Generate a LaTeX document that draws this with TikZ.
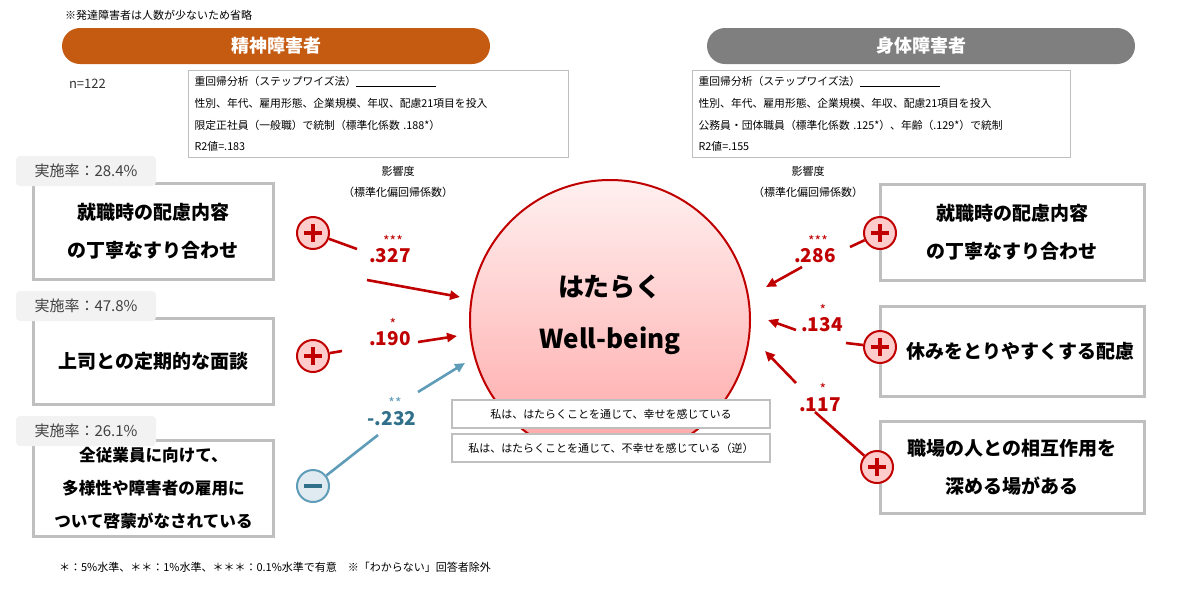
\documentclass[tikz,border=0pt]{standalone}
\usepackage{fontspec}
\setmainfont{Noto Sans CJK JP}
\usetikzlibrary{arrows.meta}
\definecolor{ored}{HTML}{C55A11}
\definecolor{hgray}{HTML}{7F7F7F}
\definecolor{dred}{HTML}{C00000}
\definecolor{bl}{HTML}{5E9CB8}
\definecolor{bltx}{HTML}{31708A}
\definecolor{bgray}{HTML}{BFBFBF}
\tikzset{
 hdr/.style={rounded corners=9pt,text=white,font=\bfseries\fontsize{9}{10}\selectfont},
 info/.style={draw=bgray,line width=0.6pt,anchor=north west,align=left,inner sep=3pt,font=\fontsize{5.4}{10.8}\selectfont},
 sbox/.style={draw=bgray,line width=1.5pt,fill=white,font=\bfseries\fontsize{9.5}{19}\selectfont,align=center},
 tag/.style={fill=black!5,rounded corners=2pt,font=\fontsize{7.5}{9}\selectfont,text=black!75},
 plus/.style={circle,draw=dred,line width=1pt,fill=red!20,minimum size=16pt,inner sep=0pt,
   path picture={\draw[dred,line width=1.6pt] ([xshift=-4.5pt]path picture bounding box.center) -- ([xshift=4.5pt]path picture bounding box.center) ([yshift=-4.5pt]path picture bounding box.center) -- ([yshift=4.5pt]path picture bounding box.center);}},
 minus/.style={circle,draw=bl,line width=1pt,fill=bl!20,minimum size=16pt,inner sep=0pt,
   path picture={\draw[bltx,line width=1.6pt] ([xshift=-4.5pt]path picture bounding box.center) -- ([xshift=4.5pt]path picture bounding box.center);}},
 coef/.style={font=\bfseries\fontsize{9.5}{10}\selectfont,text=dred},
 star/.style={font=\fontsize{7}{7}\selectfont,text=dred},
 rl/.style={dred,line width=1.3pt},
 ra/.style={dred,line width=1.3pt,-{Triangle[length=5pt,width=4.5pt]}},
 bll/.style={bl,line width=1.3pt},
 bla/.style={bl,line width=1.3pt,-{Triangle[length=5pt,width=4.5pt]}},
 small/.style={font=\fontsize{5.5}{6}\selectfont},
 wbox/.style={draw=bgray,fill=white,line width=0.6pt,minimum width=159pt,minimum height=14pt,font=\fontsize{5.5}{6}\selectfont}
}
\begin{document}
\begin{tikzpicture}[x=0.5pt,y=-0.5pt]
\useasboundingbox (0,0) rectangle (1184,590);
\node[small,anchor=west] (note) at (58,15) {※発達障害者は人数が少ないため省略};
\path[fill=ored,rounded corners=9pt] (62,28) rectangle (490,64);
\node[hdr] (h1) at (276,46) {精神障害者};
\path[fill=hgray,rounded corners=9pt] (707,28) rectangle (1135,64);
\node[hdr] (h2) at (921,46) {身体障害者};
\node[font=\fontsize{6.5}{7}\selectfont,anchor=west,text=black!80] (n) at (62,84) {n=122};
\node[info,text width=184pt,minimum height=43.5pt] (i1) at (188,70) {重回帰分析（ステップワイズ法）\rule[-0.5pt]{40pt}{0.4pt}\\性別、年代、雇用形態、企業規模、年収、配慮21項目を投入\\限定正社員（一般職）で統制（標準化係数 .188*）\\R2値=.183};
\node[info,text width=183pt,minimum height=43.5pt] (i2) at (692,70) {重回帰分析（ステップワイズ法）\rule[-0.5pt]{40pt}{0.4pt}\\性別、年代、雇用形態、企業規模、年収、配慮21項目を投入\\公務員・団体職員（標準化係数 .125*）、年齢（.129*）で統制\\R2値=.155};
\node[small,align=center,font=\fontsize{5.5}{10.5}\selectfont] (e1) at (398,182) {影響度\\（標準化偏回帰係数）};
\node[small,align=center,font=\fontsize{5.5}{10.5}\selectfont] (e2) at (808,182) {影響度\\（標準化偏回帰係数）};
% big circle
\shade[top color=red!6,bottom color=red!35,draw=dred,line width=1pt] (610,320) circle (140);
\node[font=\bfseries\fontsize{13}{26}\selectfont,align=center] (wb) at (610,315) {はたらく\\Well-being};
\node[wbox] (w1) at (611,414) {私は、はたらくことを通じて、幸せを感じている};
\node[wbox] (w2) at (611,448) {私は、はたらくことを通じて、不幸せを感じている（逆）};
% left boxes
\node[sbox,minimum width=120pt,minimum height=48pt] (L1) at (153.5,231.5) {就職時の配慮内容\\の丁寧なすり合わせ};
\node[tag,minimum width=70pt,minimum height=15pt] (t1) at (86,171) {実施率：28.4\%};
\node[sbox,minimum width=120pt,minimum height=43pt] (L2) at (153.5,361.5) {上司との定期的な面談};
\node[tag,minimum width=70pt,minimum height=15pt] (t2) at (86,306) {実施率：47.8\%};
\node[sbox,minimum width=120pt,minimum height=48pt,font=\bfseries\fontsize{8.3}{16.5}\selectfont] (L3) at (153.5,488.5) {全従業員に向けて、\\多様性や障害者の雇用に\\ついて啓蒙がなされている};
\node[tag,minimum width=70pt,minimum height=15pt] (t3) at (86,431) {実施率：26.1\%};
\node[plus] (p1) at (313,233) {};
\node[plus] (p2) at (313,356) {};
\node[minus] (m3) at (313,486) {};
% right boxes
\node[sbox,minimum width=132pt,minimum height=48pt] (R1) at (1012,232) {就職時の配慮内容\\の丁寧なすり合わせ};
\node[sbox,minimum width=132pt,minimum height=45pt] (R2) at (1012,351) {\hspace{8pt}休みをとりやすくする配慮};
\node[sbox,minimum width=132pt,minimum height=46pt] (R3) at (1012,467) {職場の人との相互作用を\\深める場がある};
\node[plus] (q1) at (880,233) {};
\node[plus] (q2) at (880,347) {};
\node[plus] (q3) at (877,467) {};
% left coefficients
\node[coef] (c1) at (390,256) {.327};
\node[star] (s1) at (393,241) {***};
\node[coef] (c2) at (390,339) {.190};
\node[star] (s2) at (393,324) {*};
\node[coef,text=bltx] (c3) at (392,419) {-.232};
\node[star,text=bl] (s3) at (395,403) {**};
\coordinate (a1e) at (357,249); \coordinate (a1s) at (367,280); \coordinate (a1t) at (460,297);
\coordinate (a2e) at (342,351); \coordinate (a2s) at (418,342); \coordinate (a2t) at (457,336);
\coordinate (a3e) at (378,435); \coordinate (a3s) at (418,392); \coordinate (a3t) at (465,363);
\draw[rl] (p1) -- (a1e); \draw[ra] (a1s) -- (a1t);
\draw[rl] (p2) -- (a2e); \draw[ra] (a2s) -- (a2t);
\draw[bll] (m3) -- (a3e); \draw[bla] (a3s) -- (a3t);
% right coefficients
\node[coef] (d1) at (815,256) {.286};
\node[star] (r1) at (818,241) {***};
\node[coef] (d2) at (822,325) {.134};
\node[star] (r2) at (823,310) {*};
\node[coef] (d3) at (820,405) {.117};
\node[star] (r3) at (823,389) {*};
\coordinate (b1e) at (850,247); \coordinate (b1s) at (802,267); \coordinate (b1t) at (766,287);
\coordinate (b2e) at (846,343); \coordinate (b2s) at (796,330); \coordinate (b2t) at (768,320);
\coordinate (b3e) at (815,412); \coordinate (b3s) at (796,383); \coordinate (b3t) at (765,351);
\draw[rl] (q1) -- (b1e); \draw[ra] (b1s) -- (b1t);
\draw[rl] (q2) -- (b2e); \draw[ra] (b2s) -- (b2t);
\draw[rl] (q3) -- (b3e); \draw[ra] (b3s) -- (b3t);
\node[small,anchor=west] (foot) at (52,567) {＊：5\%水準、＊＊：1\%水準、＊＊＊：0.1\%水準で有意　※「わからない」回答者除外};
\end{tikzpicture}
\end{document}
